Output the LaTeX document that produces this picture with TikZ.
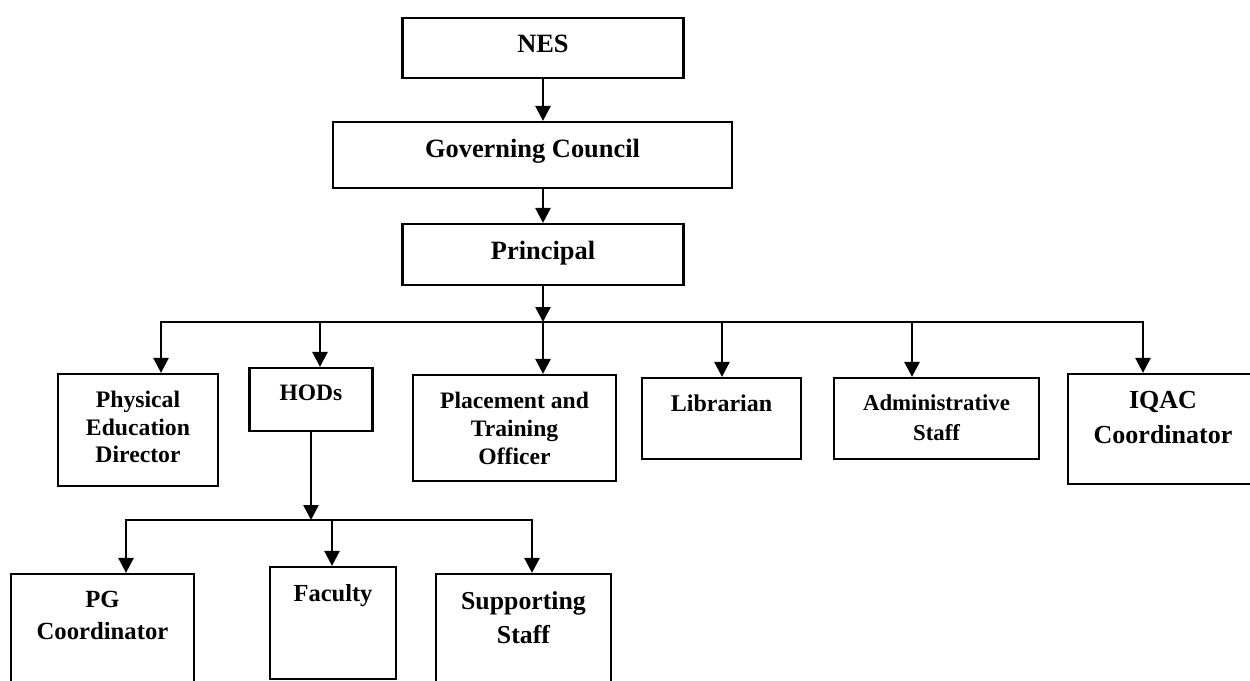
\documentclass[tikz,border=0pt]{standalone}
\usepackage{fontspec}
\setmainfont{Liberation Serif}
\usetikzlibrary{arrows.meta}

\begin{document}
\begin{tikzpicture}[x=1pt,y=-1pt]
	\tikzset{box/.style 2 args={draw,line width=2.2pt,minimum width=#1,minimum height=#2,inner sep=0pt},
		txt/.style 2 args={anchor=north,inner sep=0pt,yshift=-18pt,align=center,font=\fontsize{#1}{#2}\selectfont\bfseries},
		conn/.style={line width=2.6pt,line cap=rect},
		arr/.style={line width=2.6pt,-{Triangle[width=15pt,length=15pt]}}}
	\useasboundingbox (0,0) rectangle (1250,680);
	\clip (0,0) rectangle (1250,680);
	% top chain
	\node[box={281pt}{60pt},label={[txt={26.4}{30}]north:NES}] (nes) at (543,48) {};
	\node[box={399pt}{66pt},label={[txt={26.4}{30}]north:Governing Council}] (gc) at (532.5,155) {};
	\node[box={281pt}{61pt},label={[txt={26.4}{30}]north:Principal}] (prin) at (543,254.5) {};
	% second row
	\node[box={160pt}{112pt},label={[txt={23.7}{27.5}]north:{Physical\\Education\\Director}}] (ped) at (138,430) {};
	\node[box={123pt}{63pt},label={[txt={23.5}{28}]north:HODs}] (hods) at (311,399.5) {};
	\node[box={203pt}{106pt},label={[txt={23.6}{28}]north:{Placement and\\Training\\Officer}}] (pto) at (514.5,428) {};
	\node[box={159pt}{81pt},label={[txt={24}{28}]north:Librarian}] (lib) at (721.5,418.5) {};
	\node[box={205pt}{81pt},label={[txt={22.8}{30}]north:{Administrative\\Staff}}] (adm) at (936.5,418.5) {};
	\node[box={190pt}{110pt},label={[txt={26}{35}]north:{IQAC\\Coordinator}}] (iqac) at (1163,429) {};
	% under the HODs
	\node[box={183pt}{120pt},label={[txt={24.7}{32}]north:{PG\\Coordinator}}] (pg) at (102.5,634) {};
	\node[box={126pt}{112pt},label={[txt={24.5}{28}]north:Faculty}] (fac) at (333,623) {};
	\node[box={175pt}{120pt},label={[txt={25.8}{34}]north:{Supporting\\Staff}}] (sup) at (523.5,634) {};

	\draw[arr] (nes) -- (nes |- gc.north);
	\draw[arr] (nes |- gc.south) -- (prin);
	\coordinate (bus) at (543,322);
	\coordinate (busl) at (161,322);
	\coordinate (busr) at (1143,322);
	\draw[arr] (prin) -- (bus);
	\draw[conn] (busl) -- (busr);
	\foreach \x/\n in {161/ped,320/hods,543/pto,722/lib,912/adm,1143/iqac}{
		\coordinate (in-\n) at (\x,322);
		\draw[arr] (in-\n) -- (in-\n |- \n.north);
	}
	\coordinate (sub) at (311,520);
	\coordinate (subl) at (126,520);
	\coordinate (subr) at (532,520);
	\draw[arr] (hods) -- (sub);
	\draw[conn] (subl) -- (subr);
	\foreach \x/\n in {126/pg,332/fac,532/sup}{
		\coordinate (in-\n) at (\x,520);
		\draw[arr] (in-\n) -- (in-\n |- \n.north);
	}
\end{tikzpicture}
\end{document}
